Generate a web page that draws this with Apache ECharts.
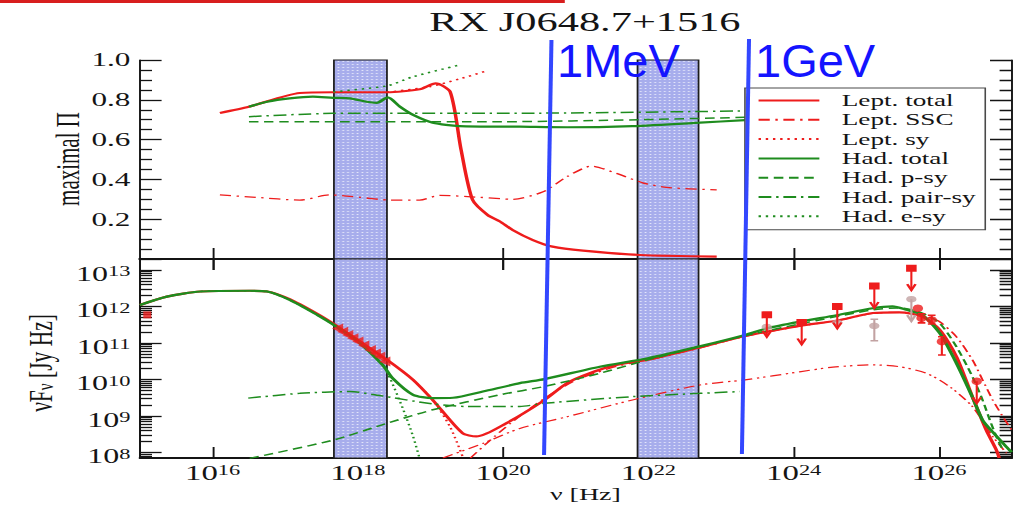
<!DOCTYPE html>
<html>
<head>
<meta charset="utf-8">
<script src="https://cdn.jsdelivr.net/npm/echarts@6/dist/echarts.min.js"></script>
<style>
html, body { margin: 0; padding: 0; background: #fff; overflow: hidden; }
/* the figure is laid out narrow and widened horizontally */
#chart { width: 636.25px; height: 509px; transform: scaleX(1.6); transform-origin: 0 0; }
</style>
</head>
<body>
<div id="chart"></div>
<script>
const STRETCH = 1.6;
const SERIF = '"Liberation Serif", "Times New Roman", serif';
const SANS = '"Liberation Sans", Arial, sans-serif';
const RED = '#ee1c1c';
const GREEN = '#1e8c1e';
const GREY = '#c2a2a2';
const BLUE = '#3347ff';
const INK = '#141414';

// axes (frequency and flux are given as log10 values)
const nuRange = [15, 27];
const piRange = [0, 1];
const fluxRange = [7.85, 13.30];
const nuTickExp = [16, 18, 20, 22, 24, 26];
const fluxTickExp = [8, 9, 10, 11, 12, 13];
const bands = [[17.67, 18.40], [21.85, 22.69]];

// maximal polarization degree
const piLeptTotal = [[16.10,0.734],[16.50,0.765],[17.20,0.834],[17.66,0.838],[18.40,0.838],[18.85,0.853],[19.07,0.883],[19.27,0.84],[19.42,0.55],[19.58,0.296],[19.79,0.22],[19.95,0.19],[20.13,0.146],[20.41,0.095],[20.68,0.062],[21.10,0.042],[21.88,0.02],[22.94,0.012]];
const piLeptSSC = [[16.10,0.322],[16.60,0.31],[17.20,0.296],[17.61,0.322],[18.03,0.31],[18.44,0.296],[18.85,0.296],[19.13,0.32],[19.68,0.31],[20.13,0.30],[20.55,0.338],[20.88,0.414],[21.22,0.467],[21.56,0.43],[21.92,0.383],[22.25,0.36],[22.94,0.347]];
const piLeptSy = [[18.40,0.838],[18.99,0.866],[19.40,0.905],[19.78,0.946]];
const piHadTotal = [[16.50,0.765],[16.75,0.79],[17.06,0.807],[17.38,0.816],[17.66,0.81],[17.89,0.807],[18.12,0.79],[18.26,0.785],[18.41,0.812],[18.58,0.765],[18.76,0.724],[19.03,0.685],[19.40,0.668],[20.23,0.665],[20.88,0.662],[21.78,0.668],[22.71,0.685],[23.33,0.698]];
const piHadPsy = [[16.50,0.69],[20.00,0.69],[21.88,0.70],[23.33,0.712]];
const piHadPairSy = [[16.50,0.715],[17.66,0.732],[20.50,0.733],[23.33,0.744]];
const piHadESy = [[17.66,0.84],[18.40,0.87],[18.76,0.916],[19.40,0.975]];

// spectral energy distribution, log10(nu F_nu / Jy Hz)
const sedLeptTotal = [[15.0,12.04],[15.37,12.27],[15.83,12.41],[16.51,12.43],[16.75,12.41],[17.06,12.2],[17.44,11.8],[17.67,11.52],[18.0,11.08],[18.40,10.54],[18.76,9.99],[19.03,9.44],[19.44,8.53],[19.63,8.44],[20.04,8.80],[20.57,9.44],[20.88,9.9],[21.19,10.17],[21.56,10.40],[21.99,10.54],[22.69,10.87],[23.33,11.19],[24.08,11.47],[24.59,11.61],[25.09,11.82],[25.46,11.84],[25.77,11.72],[26.01,11.36],[26.24,10.63],[26.46,9.53],[26.65,8.62],[26.79,8.07],[26.83,7.85]];
const sedLeptSSC = [[19.55,7.85],[19.80,8.30],[20.10,8.80],[20.40,9.25],[20.70,9.65],[21.00,9.98],[21.30,10.20],[21.60,10.38],[22.00,10.53],[22.70,10.86],[23.33,11.18],[24.08,11.46],[24.59,11.61],[25.09,11.81],[25.46,11.84],[25.83,11.72],[26.01,11.58],[26.24,11.17],[26.46,10.54],[26.60,9.99],[26.74,9.44],[26.88,8.98],[27.0,8.62]];
const sedLeptSy = [[18.76,9.99],[19.03,9.44],[19.27,8.70],[19.45,7.85]];
const sedLeptOther = [[19.17,7.85],[19.72,8.25],[20.23,8.66],[20.88,8.98],[21.78,9.44],[22.71,9.85],[23.33,9.99],[24.08,10.21],[24.54,10.34],[25.09,10.40],[25.46,10.35],[25.83,10.17],[26.15,9.80],[26.46,9.26],[26.74,8.44],[26.93,7.98]];
const sedHadTotal = [[15.0,12.04],[15.37,12.27],[15.83,12.41],[16.51,12.43],[16.75,12.41],[17.06,12.18],[17.44,11.77],[17.67,11.49],[18.0,11.04],[18.34,10.40],[18.48,10.03],[18.76,9.58],[19.03,9.49],[19.31,9.50],[19.72,9.67],[20.23,9.90],[20.57,10.01],[21.33,10.35],[21.99,10.58],[22.69,10.90],[23.33,11.22],[23.63,11.40],[24.08,11.58],[24.59,11.76],[25.09,11.95],[25.36,12.0],[25.55,11.91],[25.77,11.77],[26.01,11.27],[26.24,10.45],[26.46,9.52],[26.60,8.89],[26.74,8.56],[26.93,8.15],[27.0,8.01]];
const sedHadPsy = [[16.51,7.84],[17.66,8.34],[18.40,8.80],[19.03,9.17],[19.95,9.58],[20.57,9.81],[21.33,10.17],[21.99,10.54],[22.71,10.90],[23.33,11.20],[24.08,11.52],[25.09,11.91],[25.46,11.96],[25.77,11.82],[26.01,11.54],[26.24,10.90],[26.46,10.08],[26.60,9.44],[26.70,8.89],[26.79,8.44],[26.88,8.07]];
const sedHadPairSy = [[16.49,9.49],[17.20,9.62],[17.89,9.67],[18.30,9.56],[19.03,9.33],[19.50,9.26],[20.23,9.26],[20.57,9.35],[21.78,9.53],[22.71,9.62],[23.26,9.67]];
const sedHadESy = [[15.0,12.04],[15.37,12.27],[15.83,12.41],[16.51,12.43],[16.75,12.41],[17.06,12.18],[17.44,11.77],[17.67,11.49],[18.0,11.04],[18.34,10.40],[18.45,10.0],[18.62,9.2],[18.76,8.44],[18.85,7.84]];

// observations
const optPoint = [[15.1, 11.77]];
const xrayPoints = [[17.72,11.40],[17.79,11.31],[17.86,11.22],[17.93,11.13],[18.0,11.04],[18.08,10.93],[18.17,10.81],[18.24,10.71],[18.30,10.62],[18.37,10.49]];
const gammaUpperLimits = [[23.63,11.77],[24.11,11.56],[24.60,12.0],[25.11,12.56],[25.62,13.05]];
const greyPoints = [[23.63,11.44],[24.11,11.56],[24.60,11.56],[25.11,11.47],[25.62,12.20]];
const greyErrors = [[25.11,11.06,11.65]];
const greyArrows = [[25.62,12.20]];
const tevPoints = [[25.71,11.95],[25.76,11.68],[25.90,11.63],[26.04,11.04],[26.52,9.95]];
const tevErrors = [[25.76,11.55,11.80],[25.90,11.52,11.76],[26.04,10.67,11.17]];
const tevArrows = [[26.52,9.95]];

// energy markers (top-panel units, drawn past the frame)
const mevLine = [[20.665,1.10],[20.563,-0.985]];
const gevLine = [[23.385,1.106],[23.287,-0.98]];

const fluxMinorTicks = [];
for (let n = 7; n <= 13; n++) {
  for (let k = 2; k <= 9; k++) {
    const v = n + Math.log10(k);
    if (v > fluxRange[0] && v < fluxRange[1]) fluxMinorTicks.push(v);
  }
}

// dotted blue texture for the shaded frequency bands
const bandTile = document.createElement('canvas');
bandTile.width = 3;
bandTile.height = 3;
(function () {
  const g = bandTile.getContext('2d');
  g.fillStyle = '#a7adec';
  g.fillRect(0, 0, 3, 3);
  g.fillStyle = '#e6e8fb';
  g.fillRect(1, 1, 1, 1);
})();

const chart = echarts.init(document.getElementById('chart'), null, { renderer: 'svg' });

const axisLineX = { show: true, lineStyle: { color: INK, width: 1.8 } };
const axisLineY = { show: true, lineStyle: { color: INK, width: 1.2 } };
const tickX = { show: true, inside: true, length: 11, lineStyle: { color: INK, width: 1.2 }, customValues: nuTickExp };

function xAxisDef(grid, pos, withLabels) {
  const a = {
    type: 'value', gridIndex: grid, position: pos, min: nuRange[0], max: nuRange[1],
    axisLine: axisLineX, axisTick: tickX, splitLine: { show: false },
    axisLabel: { show: false }
  };
  if (withLabels) {
    a.axisLabel = {
      show: true, margin: 5, customValues: nuTickExp,
      formatter: v => '{b|10}{s|' + Math.round(v) + '}',
      rich: {
        b: { fontFamily: SERIF, fontSize: 20.5, lineHeight: 21, color: INK },
        s: { fontFamily: SERIF, fontSize: 14, lineHeight: 4, verticalAlign: 'top', color: INK }
      }
    };
    a.name = 'ν [Hz]';
    a.nameLocation = 'middle';
    a.nameGap = 25;
    a.nameTextStyle = { fontFamily: SERIF, fontSize: 17.5, color: INK, padding: [0, 0, 0, 12] };
  }
  return a;
}

function fluxAxisDef(pos, minor, withLabels) {
  const a = {
    type: 'value', gridIndex: 1, position: pos, min: fluxRange[0], max: fluxRange[1],
    axisLine: axisLineY, splitLine: { show: false },
    axisTick: { show: true, inside: true, length: minor ? 7.5 : 13.5, lineStyle: { color: INK, width: 1.3 },
      customValues: minor ? fluxMinorTicks : fluxTickExp },
    axisLabel: { show: false }
  };
  if (withLabels) {
    a.axisLabel = {
      show: true, margin: 6, customValues: fluxTickExp, padding: [8, 0, 0, 0],
      formatter: v => '{b|10}{s|' + Math.round(v) + '}',
      rich: {
        b: { fontFamily: SERIF, fontSize: 20, lineHeight: 19, color: INK },
        s: { fontFamily: SERIF, fontSize: 14, lineHeight: 3, verticalAlign: 'top', color: INK }
      }
    };
  }
  return a;
}

function piAxisDef(pos, withLabels) {
  return {
    type: 'value', gridIndex: 0, position: pos, min: piRange[0], max: piRange[1], interval: 0.2,
    axisLine: axisLineY, splitLine: { show: false },
    axisTick: { show: true, inside: true, length: 13.5, lineStyle: { color: INK, width: 1.3 } },
    minorTick: { show: true, splitNumber: 4, length: 7.5, lineStyle: { color: INK, width: 1.3 } },
    axisLabel: withLabels ? {
      show: true, margin: 6, fontFamily: SERIF, fontSize: 19.5, color: INK,
      formatter: v => (v === 0 ? '' : v.toFixed(1))
    } : { show: false }
  };
}

function curve(name, data, grid, color, width, dash, z) {
  return {
    name: name, type: 'line', data: data, xAxisIndex: grid === 0 ? 0 : 2, yAxisIndex: grid === 0 ? 0 : 2,
    symbol: 'none', smooth: 0.25, z: z || 3, silent: true,
    lineStyle: { color: color, width: width, type: dash || 'solid' },
    itemStyle: { color: color }
  };
}

function bandSeries(grid) {
  return {
    type: 'line', data: [], xAxisIndex: grid === 0 ? 0 : 2, yAxisIndex: grid === 0 ? 0 : 2, z: 1, silent: true,
    markArea: {
      silent: true,
      itemStyle: { color: { image: bandTile, repeat: 'repeat' }, borderColor: '#1c1c1c', borderWidth: 1.1 },
      data: bands.map(b => [{ xAxis: b[0] }, { xAxis: b[1] }])
    }
  };
}

function arrowItem(color, withBox) {
  return function (params, api) {
    const p = api.coord([api.value(0), api.value(1)]);
    const len = 22, hw = 2.6, hh = 6;
    const kids = [
      { type: 'line', shape: { x1: p[0], y1: p[1], x2: p[0], y2: p[1] + len }, style: { stroke: color, lineWidth: 1.3 } },
      { type: 'polyline', shape: { points: [[p[0] - hw, p[1] + len - hh], [p[0], p[1] + len], [p[0] + hw, p[1] + len - hh]] },
        style: { stroke: color, fill: 'none', lineWidth: 1.6 } }
    ];
    if (withBox) kids.push({ type: 'rect', shape: { x: p[0] - 3.3, y: p[1] - 3.5, width: 6.6, height: 7 }, style: { fill: color } });
    return { type: 'group', children: kids };
  };
}

function errItem(color) {
  return function (params, api) {
    const lo = api.coord([api.value(0), api.value(1)]);
    const hi = api.coord([api.value(0), api.value(2)]);
    const c = 2.4;
    return { type: 'group', children: [
      { type: 'line', shape: { x1: lo[0], y1: lo[1], x2: hi[0], y2: hi[1] }, style: { stroke: color, lineWidth: 1.3 } },
      { type: 'line', shape: { x1: lo[0] - c, y1: lo[1], x2: lo[0] + c, y2: lo[1] }, style: { stroke: color, lineWidth: 1.6 } },
      { type: 'line', shape: { x1: hi[0] - c, y1: hi[1], x2: hi[0] + c, y2: hi[1] }, style: { stroke: color, lineWidth: 1.6 } }
    ] };
  };
}

const DASH_SSC = [7, 3.5, 1.5, 3.5];
const DOT = [1.5, 3];
const DASH = [6, 3.5];
const DASH_PAIR = [8, 3, 1.5, 3];
const DASH_OTHER = [7, 3, 1.5, 2.5, 1.5, 3];

const names = ['Lept. total', 'Lept. SSC', 'Lept. sy', 'Had. total', 'Had. p-sy', 'Had. pair-sy', 'Had. e-sy'];

const series = [
  bandSeries(0),
  curve(names[1], piLeptSSC, 0, RED, 1.3, DASH_SSC),
  curve(names[2], piLeptSy, 0, RED, 1.5, DOT),
  curve(names[0], piLeptTotal, 0, RED, 2.2),
  curve(names[4], piHadPsy, 0, GREEN, 1.5, DASH),
  curve(names[5], piHadPairSy, 0, GREEN, 1.5, DASH_PAIR),
  curve(names[6], piHadESy, 0, GREEN, 1.5, DOT),
  curve(names[3], piHadTotal, 0, GREEN, 2.2),

  bandSeries(1),
  curve(names[1], sedLeptSSC, 1, RED, 1.3, DASH_SSC),
  curve(names[2], sedLeptSy, 1, RED, 1.5, DOT),
  curve('Lept. other', sedLeptOther, 1, RED, 1.2, DASH_OTHER),
  curve(names[0], sedLeptTotal, 1, RED, 2.2),
  curve(names[4], sedHadPsy, 1, GREEN, 1.5, DASH),
  curve(names[5], sedHadPairSy, 1, GREEN, 1.5, DASH_PAIR),
  curve(names[6], sedHadESy, 1, GREEN, 1.5, DOT),
  curve(names[3], sedHadTotal, 1, GREEN, 2.2, 'solid', 4),

  { type: 'scatter', data: optPoint, xAxisIndex: 2, yAxisIndex: 2, symbol: 'rect', symbolSize: [5, 7], itemStyle: { color: RED }, z: 5, silent: true },
  { type: 'scatter', data: xrayPoints, xAxisIndex: 2, yAxisIndex: 2, symbol: 'triangle', symbolRotate: 90, symbolSize: [10, 7], itemStyle: { color: RED }, z: 5, silent: true },
  { type: 'custom', data: greyErrors, xAxisIndex: 2, yAxisIndex: 2, renderItem: errItem(GREY), z: 5, silent: true },
  { type: 'custom', data: greyArrows, xAxisIndex: 2, yAxisIndex: 2, renderItem: arrowItem(GREY, false), z: 5, silent: true },
  { type: 'scatter', data: greyPoints, xAxisIndex: 2, yAxisIndex: 2, symbol: 'circle', symbolSize: [6.5, 6.5], itemStyle: { color: GREY }, z: 5, silent: true },
  { type: 'custom', data: gammaUpperLimits, xAxisIndex: 2, yAxisIndex: 2, renderItem: arrowItem(RED, true), z: 6, silent: true },
  { type: 'custom', data: tevErrors, xAxisIndex: 2, yAxisIndex: 2, renderItem: errItem(RED), z: 6, silent: true },
  { type: 'custom', data: tevArrows, xAxisIndex: 2, yAxisIndex: 2, renderItem: arrowItem(RED, false), z: 6, silent: true },
  { type: 'scatter', data: tevPoints, xAxisIndex: 2, yAxisIndex: 2, symbol: 'circle', symbolSize: [6.5, 7.5], itemStyle: { color: RED }, z: 6, silent: true },

  { type: 'line', data: mevLine, xAxisIndex: 0, yAxisIndex: 0, clip: false, symbol: 'none', z: 10, silent: true, lineStyle: { color: BLUE, width: 2.5 } },
  { type: 'line', data: gevLine, xAxisIndex: 0, yAxisIndex: 0, clip: false, symbol: 'none', z: 10, silent: true, lineStyle: { color: BLUE, width: 2.5 } }
];

chart.setOption({
  animation: false,
  backgroundColor: '#ffffff',
  title: {
    text: 'RX J0648.7+1516', left: 360.6, top: 4, textAlign: 'center',
    textStyle: { fontFamily: SERIF, fontSize: 26.5, fontWeight: 'normal', color: INK }
  },
  grid: [
    { left: 87.5, right: 3.75, top: 60, height: 199 },
    { left: 87.5, right: 3.75, top: 259, height: 199 }
  ],
  xAxis: [
    xAxisDef(0, 'bottom', false),
    xAxisDef(0, 'top', false),
    xAxisDef(1, 'bottom', true),
    xAxisDef(1, 'top', false)
  ],
  yAxis: [
    piAxisDef('left', true),
    piAxisDef('right', false),
    fluxAxisDef('left', false, true),
    fluxAxisDef('left', true, false),
    fluxAxisDef('right', false, false),
    fluxAxisDef('right', true, false)
  ],
  legend: {
    data: names, orient: 'vertical', left: 465.6, top: 88,
    backgroundColor: '#ffffff', borderColor: '#4a4a4a', borderWidth: 1,
    padding: [4, 6, 5, 7.5], itemWidth: 38, itemHeight: 12, itemGap: 2.3,
    selectedMode: false,
    itemStyle: { opacity: 0 },
    textStyle: { fontFamily: SERIF, fontSize: 17, lineHeight: 17, color: INK, padding: [0, 0, 0, 9] }
  },
  graphic: [
    { type: 'rect', left: 0, top: 0, shape: { width: 353, height: 3 }, style: { fill: '#d81e1e' }, silent: true },
    { type: 'text', x: 42.5, y: 159, rotation: Math.PI / 2, silent: true,
      style: { text: 'maximal Π', fontFamily: SERIF, fontSize: 21, fill: INK, align: 'center', verticalAlign: 'middle' } },
    { type: 'text', x: 25, y: 363, rotation: Math.PI / 2, silent: true,
      style: { text: '{a|νF}{s|ν}{a| [Jy Hz]}', align: 'center', verticalAlign: 'middle',
        rich: {
          a: { fontFamily: SERIF, fontSize: 21.5, lineHeight: 21, fill: INK },
          s: { fontFamily: SERIF, fontSize: 15, lineHeight: 8, verticalAlign: 'bottom', fill: INK }
        } } },
    { type: 'text', x: 557 / STRETCH, y: 60, scaleX: 1 / STRETCH, silent: true, z: 20,
      style: { text: '1MeV', fontFamily: SANS, fontSize: 47, fill: '#1414ff', align: 'left', verticalAlign: 'middle' } },
    { type: 'text', x: 755 / STRETCH, y: 60, scaleX: 1 / STRETCH, silent: true, z: 20,
      style: { text: '1GeV', fontFamily: SANS, fontSize: 47, fill: '#1414ff', align: 'left', verticalAlign: 'middle' } }
  ],
  series: series
});
</script>
</body>
</html>
